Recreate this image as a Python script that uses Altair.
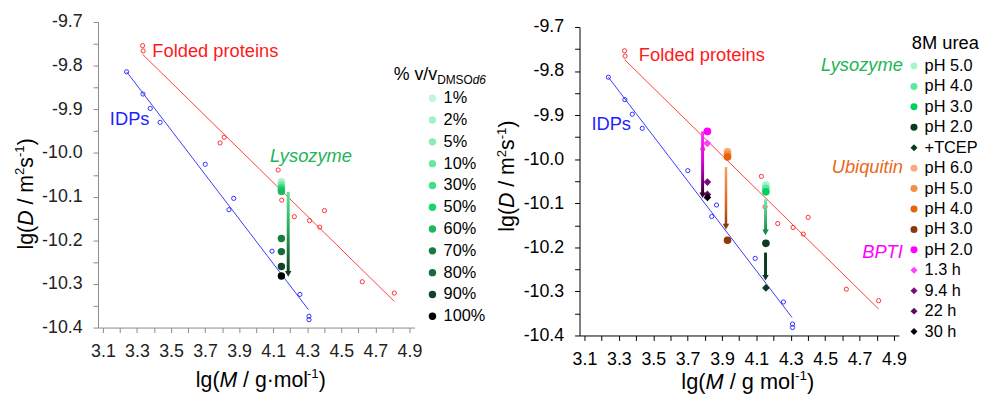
import altair as alt
import pandas as pd

FONT = "Liberation Sans"
MINUS = "\u2212"

# ---------------- shared reference series (both panels) ----------------
folded_x = [3.333, 3.336, 3.788, 3.812, 4.129, 4.150, 4.224, 4.313, 4.373, 4.401, 4.623, 4.811]
folded_y = [-9.754, -9.766, -9.977, -9.964, -10.039, -10.108, -10.146, -10.155, -10.170, -10.132, -10.295, -10.321]
folded_fit_x = [3.333, 4.811]
folded_fit_y = [-9.774, -10.340]

idp_x = [3.239, 3.335, 3.378, 3.436, 3.701, 3.868, 3.840, 4.093, 4.257, 4.310, 4.310]
idp_y = [-9.814, -9.865, -9.898, -9.930, -10.026, -10.104, -10.130, -10.225, -10.324, -10.374, -10.382]
idp_fit_x = [3.239, 4.307]
idp_fit_y = [-9.814, -10.359]

# ---------------- left panel: lysozyme in DMSO-d6 ----------------
dmso_labels = ["1%", "2%", "5%", "10%", "30%", "50%", "60%", "70%", "80%", "90%", "100%"]
dmso_colors = ["#c3f5d9", "#a6f0c6", "#8aecb5", "#6ce6a2", "#3ee08a", "#14d66c", "#1fb85c",
               "#1a7a41", "#176a3a", "#0e4526", "#000000"]
dmso_x = [4.148, 4.148, 4.148, 4.148, 4.148, 4.148, 4.148, 4.148, 4.148, 4.148, 4.148]
dmso_y = [-10.065, -10.068, -10.072, -10.075, -10.079, -10.083, -10.088, -10.196, -10.226, -10.260, -10.282]
dmso_arrow_x = [4.188]
dmso_arrow_top = [-10.089]
dmso_arrow_end = [-10.277]

# ---------------- right panel: 8M urea ----------------
urea_keys = ["Lysozyme|pH 5.0", "Lysozyme|pH 4.0", "Lysozyme|pH 3.0", "Lysozyme|pH 2.0", "Lysozyme|+TCEP",
             "Ubiquitin|pH 6.0", "Ubiquitin|pH 5.0", "Ubiquitin|pH 4.0", "Ubiquitin|pH 3.0",
             "BPTI|pH 2.0", "BPTI|1.3 h", "BPTI|9.4 h", "BPTI|22 h", "BPTI|30 h"]
urea_shapes = ["circle", "circle", "circle", "circle", "diamond",
               "circle", "circle", "circle", "circle",
               "circle", "diamond", "diamond", "diamond", "diamond"]
urea_colors = ["#a8f5cd", "#5de8a0", "#00d060", "#0b3b1f", "#0b3b1f",
               "#f9ab80", "#f58c48", "#e8620c", "#8a3a0e",
               "#ff00ff", "#ff40ff", "#7d0a7d", "#5c0a5c", "#000000"]
urea_x = [4.155, 4.155, 4.155, 4.155, 4.155,
          3.932, 3.932, 3.932, 3.932,
          3.815, 3.815, 3.815, 3.815, 3.815]
urea_y = [-10.059, -10.066, -10.074, -10.191, -10.292,
          -9.983, -9.989, -9.995, -10.184,
          -9.937, -9.964, -10.052, -10.080, -10.087]

# arrows: x, top, end (head centre)
bpti_arrow = [3.787, -9.937, -10.082]
ubq_arrow = [3.923, -10.018, -10.153]
lys1_arrow = [4.153, -10.091, -10.166]
lys2_arrow = [4.153, -10.212, -10.269]

x_ticks = [3.1, 3.2, 3.3, 3.4, 3.5, 3.6, 3.7, 3.8, 3.9, 4.0, 4.1, 4.2, 4.3, 4.4, 4.5, 4.6, 4.7, 4.8, 4.9]
y_ticks = [-10.4, -10.35, -10.3, -10.25, -10.2, -10.15, -10.1, -10.05, -10.0,
           -9.95, -9.9, -9.85, -9.8, -9.75, -9.7]

ONE = pd.DataFrame({"k": [0]})

XEXPR = "round(datum.value*10) % 2 == 1 ? format(datum.value, '.1f') : ''"
YEXPR = ("abs(datum.value*10 - round(datum.value*10)) < 0.01 ? replace(format(datum.value, '.1f'), '"
         + MINUS + "', '-') : ''")

xs = alt.Scale(domain=[3.1, 4.9], nice=False, zero=False)
ys_left = alt.Scale(domain=[-10.4, -9.7], nice=False, zero=False)
ys_right = alt.Scale(domain=[-10.4, -9.7], range=[317, 5], nice=False, zero=False)


def X(field, dc, lc):
    return alt.X(field + ":Q", scale=xs, axis=alt.Axis(
        values=x_ticks, labelExpr=XEXPR, title=None, grid=False, tickSize=5, tickWidth=1,
        domainWidth=1, labelPadding=10, labelFontSize=18, labelFlush=False, labelOverlap=False,
        domainColor=dc, tickColor=dc, labelColor=lc))


def Y(field, sc, dc, lc):
    return alt.Y(field + ":Q", scale=sc, axis=alt.Axis(
        values=y_ticks, labelExpr=YEXPR, title=None, grid=False, tickSize=5, tickWidth=1,
        domainWidth=1, labelPadding=11, labelFontSize=18, labelFlush=False, labelOverlap=False,
        domainColor=dc, tickColor=dc, labelColor=lc))


CW = {'l': 222, 'g': 556, '(': 333, ')': 333, 'D': 722, 'M': 833, ' ': 278, '/': 278, 'm': 833,
      's': 500, 'o': 556, '\u00b7': 278, '-': 333, '1': 556, '2': 556, '%': 889, 'v': 500,
      'S': 667, 'O': 778, 'd': 556, '6': 556}


def tw(s, size):
    return sum(CW.get(c, 556) for c in s) * size / 1000.0


def txt(t, x, y, color, size=18.5, align="left", italic=False, baseline="middle", angle=0):
    return alt.Chart(ONE).mark_text(
        text=t, align=align, baseline=baseline, fontSize=size, color=color, angle=angle,
        fontStyle="italic" if italic else "normal", font=FONT).encode(
        x=alt.value(x), y=alt.value(y))


def rich(pieces, x0, y0, size, vertical=False, color="black"):
    layers = []
    cur = 0.0
    for t, kind in pieces:
        fs = size * 0.62 if kind == "sup" else size
        rz = size * 0.4 if kind == "sup" else 0.0
        lead = len(t) - len(t.lstrip(" "))
        start = cur + tw(" " * lead, fs)
        if vertical:
            layers.append(txt(t.strip(), x0 - rz, y0 - start, color, fs, "left",
                              kind == "it", "alphabetic", 270))
        else:
            layers.append(txt(t.strip(), x0 + start, y0 - rz, color, fs, "left",
                              kind == "it", "alphabetic", 0))
        cur += tw(t, fs)
    return layers


def arrow(a, stops, head, sc, dc, lc, width=3):
    df = pd.DataFrame({"x": [a[0]], "y": [a[1]], "y2": [a[2]]})
    grad = alt.Gradient(gradient="linear",
                        stops=[alt.GradientStop(color=c, offset=o) for o, c in stops],
                        x1=0, x2=0, y1=0, y2=1)
    bar = alt.Chart(df).mark_bar(width=width, color=grad).encode(
        x=X("x", dc, lc), y=Y("y", sc, dc, lc), y2="y2")
    hd = alt.Chart(df).mark_point(shape="triangle-down", filled=True, size=42, color=head,
                                  opacity=1).encode(x=X("x", dc, lc), y=Y("y2", sc, dc, lc))
    return [bar, hd]


def reference_layers(sc, dc, lc):
    fdf = pd.DataFrame({"x": folded_x, "y": folded_y})
    ffit = pd.DataFrame({"x": folded_fit_x, "y": folded_fit_y})
    idf = pd.DataFrame({"x": idp_x, "y": idp_y})
    ifit = pd.DataFrame({"x": idp_fit_x, "y": idp_fit_y})
    out = []
    out.append(alt.Chart(ffit).mark_line(color="#ff4040", strokeWidth=1).encode(
        x=X("x", dc, lc), y=Y("y", sc, dc, lc)))
    out.append(alt.Chart(ifit).mark_line(color="#3a3aff", strokeWidth=1).encode(
        x=X("x", dc, lc), y=Y("y", sc, dc, lc)))
    out.append(alt.Chart(fdf).mark_point(shape="circle", filled=False, size=18, strokeWidth=1,
                                         color="#ff3030", opacity=1).encode(
        x=X("x", dc, lc), y=Y("y", sc, dc, lc)))
    out.append(alt.Chart(idf).mark_point(shape="circle", filled=False, size=18, strokeWidth=1,
                                         color="#3030ff", opacity=1).encode(
        x=X("x", dc, lc), y=Y("y", sc, dc, lc)))
    return out


# ---------------- left panel ----------------
LDC, LLC = "#8a8a8a", "#222222"
left_layers = reference_layers(ys_left, LDC, LLC)
dmso_df = pd.DataFrame({"x": dmso_x, "y": dmso_y, "pct": dmso_labels})
left_layers += arrow([dmso_arrow_x[0], dmso_arrow_top[0], dmso_arrow_end[0]],
                     [(0, "#5ee39a"), (0.45, "#2aa85c"), (1, "#0b3d20")], "#0b3d20",
                     ys_left, LDC, LLC)
left_layers.append(alt.Chart(dmso_df).mark_circle(size=56, opacity=1).encode(
    x=X("x", LDC, LLC), y=Y("y", ys_left, LDC, LLC),
    color=alt.Color("pct:N", scale=alt.Scale(domain=dmso_labels, range=dmso_colors),
                    legend=alt.Legend(orient="none", legendX=330, legendY=68.8, title=None,
                                      labelFontSize=16.5, labelColor="black", symbolSize=56,
                                      symbolType="circle", symbolStrokeWidth=0, rowPadding=5.05,
                                      labelOffset=3, padding=0, labelLimit=200))))
left_layers.append(txt("Folded proteins", 55, 29, "#ff1a1a"))
left_layers.append(txt("IDPs", 12, 98, "#1f1fff"))
left_layers.append(txt("Lysozyme", 174, 136, "#22b455", italic=True))
# legend title  % v/v_DMSOd6
left_layers.append(txt("% v/v", 299, 58.5, "black", 18, baseline="alphabetic"))
left_layers.append(txt("DMSO", 299 + tw("% v/v", 18), 63, "black", 12, baseline="alphabetic"))
left_layers.append(txt("d6", 299 + tw("% v/v", 18) + tw("DMSO", 12), 63, "black", 12,
                       italic=True, baseline="alphabetic"))
left_layers += rich([("lg(", "n"), ("M", "it"), (" / g\u00b7mol", "n"), ("-1", "sup"), (")", "n")],
                    99, 369, 21.5)
left_layers += rich([("lg(", "n"), ("D", "it"), (" / m", "n"), ("2", "sup"), ("s", "n"),
                     ("-1", "sup"), (")", "n")], -66, 230, 21.5, vertical=True)
left = alt.layer(*left_layers).properties(width=320, height=309)

# ---------------- right panel ----------------
RDC, RLC = "#000000", "#000000"
right_layers = reference_layers(ys_right, RDC, RLC)
right_layers += arrow(bpti_arrow, [(0, "#ff30ff"), (0.5, "#d000d0"), (0.8, "#700070"), (1, "#200020")],
                      "#2a002a", ys_right, RDC, RLC)
right_layers += arrow(ubq_arrow, [(0, "#f7a060"), (0.6, "#e0661a"), (1, "#8b3a0e")], "#8b3a0e",
                      ys_right, RDC, RLC, width=2.5)
right_layers += arrow(lys1_arrow, [(0, "#7de8ad"), (1, "#168a45")], "#178a45", ys_right, RDC, RLC)
right_layers += arrow(lys2_arrow, [(0, "#0b3b1f"), (1, "#0b3b1f")], "#0b3b1f", ys_right, RDC, RLC)
urea_df = pd.DataFrame({"x": urea_x, "y": urea_y, "entry": urea_keys})
urea_legend = alt.Legend(orient="none", legendX=330, legendY=36.2, title=None,
                         labelExpr="split(datum.label, '|')[1]",
                         labelFontSize=16.5, labelColor="black", symbolSize=50,
                         symbolStrokeWidth=0, rowPadding=3.66, labelOffset=2.5, padding=0,
                         labelLimit=200)
right_layers.append(alt.Chart(urea_df).mark_point(filled=True, size=60, opacity=1).encode(
    x=X("x", RDC, RLC), y=Y("y", ys_right, RDC, RLC),
    color=alt.Color("entry:N", scale=alt.Scale(domain=urea_keys, range=urea_colors), legend=urea_legend),
    shape=alt.Shape("entry:N", scale=alt.Scale(domain=urea_keys, range=urea_shapes), legend=urea_legend)))
right_layers.append(txt("8M urea", 336, 21, "black", 18.5))
right_layers.append(txt("Folded proteins", 60, 33, "#ff1a1a"))
right_layers.append(txt("IDPs", 12, 103, "#1f1fff"))
right_layers.append(txt("Lysozyme", 327, 44, "#22b455", italic=True, align="right"))
right_layers.append(txt("Ubiquitin", 327, 147, "#e8691b", italic=True, align="right"))
right_layers.append(txt("BPTI", 327, 233, "#ff00ff", italic=True, align="right"))
right_layers += rich([("lg(", "n"), ("M", "it"), (" / g mol", "n"), ("-1", "sup"), (")", "n")],
                     103, 371, 22)
right_layers += rich([("lg(", "n"), ("D", "it"), (" / m", "n"), ("2", "sup"), ("s", "n"),
                      ("-1", "sup"), (")", "n")], -66, 212, 21.5, vertical=True)
right = alt.layer(*right_layers).properties(width=323, height=317)

chart = alt.hconcat(left, right, spacing=8).resolve_scale(
    x="independent", y="independent", color="independent", shape="independent"
).properties(
    padding={"left": 5, "top": 3, "right": 0, "bottom": 0}
).configure(font=FONT).configure_view(stroke=None)

chart.save("out.html", embed_options={"renderer": "svg", "actions": False})
